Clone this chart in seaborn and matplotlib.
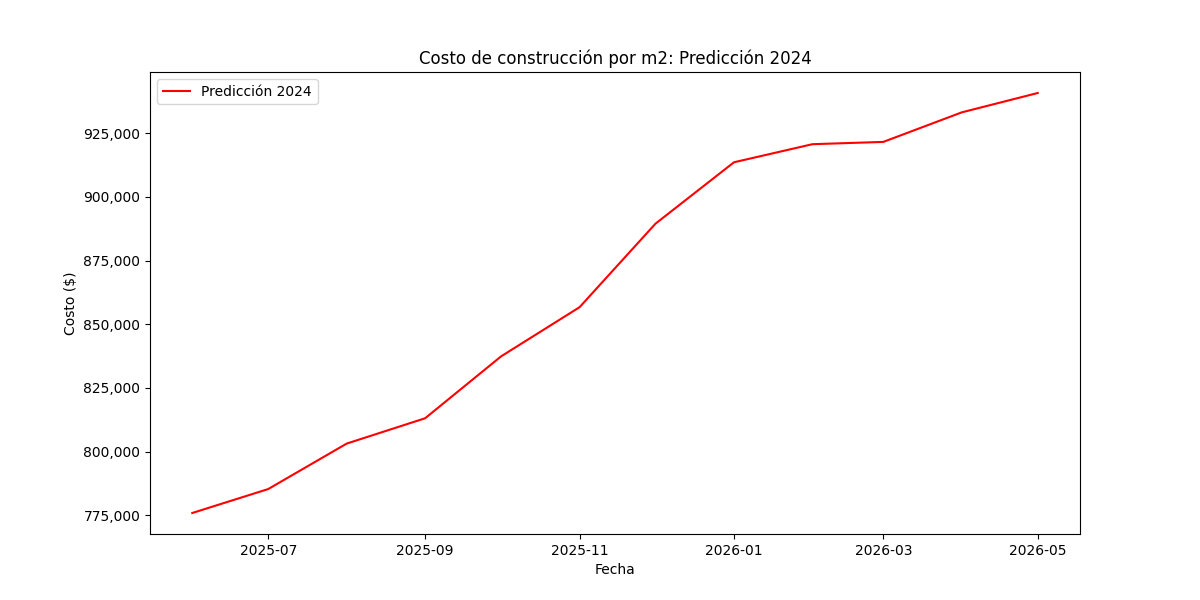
import pandas as pd
import matplotlib
matplotlib.use("Agg")
import matplotlib.pyplot as plt
import matplotlib.ticker as mticker
import seaborn as sns

# ==================================================
# DATA
# ==================================================

fechas = pd.date_range("2025-06-01", "2026-05-01", freq="MS")

costos = [
    775900, 785300, 803150, 813100, 837400, 856700,
    889500, 913600, 920700, 921600, 933200, 940800,
]

df = pd.DataFrame({"Fecha": fechas, "Costo": costos})

# ==================================================
# PLOT
# ==================================================

fig, ax = plt.subplots(figsize=(12, 6), dpi=100)

sns.lineplot(
    data=df,
    x="Fecha",
    y="Costo",
    color="red",
    label="Predicción 2024",
    ax=ax
)

ax.yaxis.set_major_formatter(
    mticker.FuncFormatter(lambda v, p: f"{v:,.0f}")
)

ax.set_title("Costo de construcción por m2: Predicción 2024")
ax.set_xlabel("Fecha")
ax.set_ylabel("Costo ($)")
ax.legend(loc="upper left")

plt.savefig("out.png")
plt.close()
